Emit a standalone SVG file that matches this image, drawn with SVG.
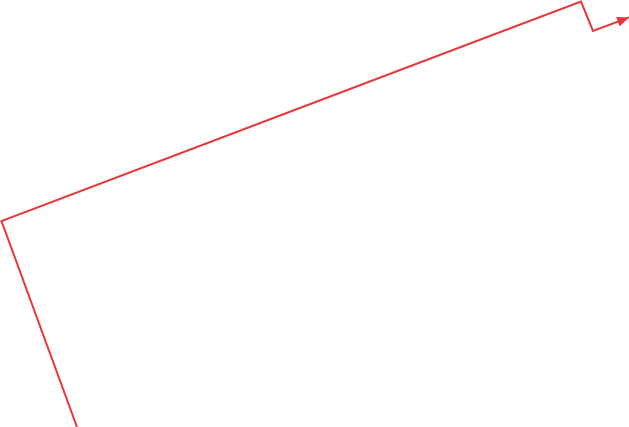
<svg xmlns="http://www.w3.org/2000/svg" width="629" height="427" viewBox="0 0 629 427">
<defs>
<marker id="ah" viewBox="0 0 12 10" refX="12" refY="5" markerWidth="6" markerHeight="5" orient="auto" markerUnits="strokeWidth">
<path d="M0,0 L12,5 L0,10 z" fill="#e8383b"/>
</marker>
</defs>
<style>.c{fill:none;stroke:#e8383b;stroke-width:2;stroke-linejoin:miter}</style>
<rect width="629" height="427" fill="#ffffff"/>
<g id="connectors">
<path class="c" d="M77,427 L1.5,221 L581,1.5 L593,31 L629,17.5" marker-end="url(#ah)"/>
</g>
</svg>
